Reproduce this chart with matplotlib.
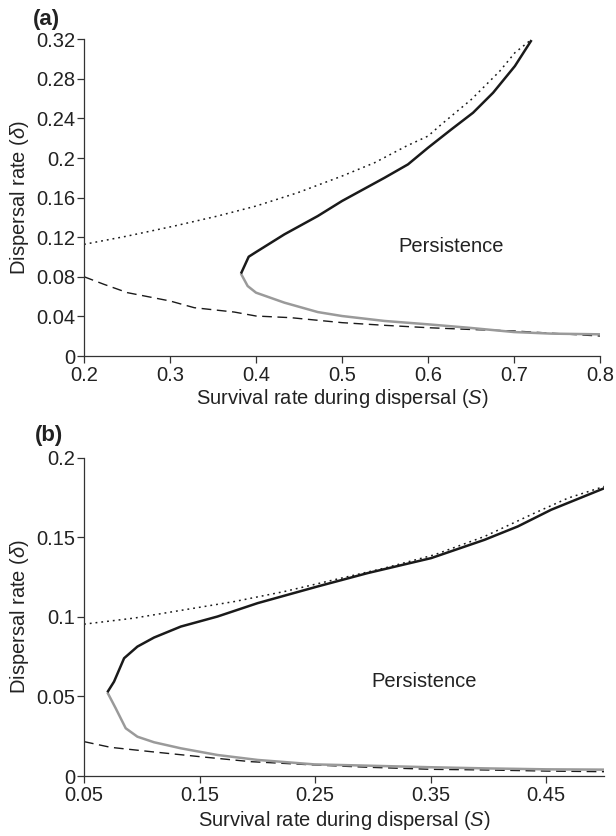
import matplotlib
matplotlib.use("Agg")
import matplotlib.pyplot as plt

plt.rcParams['font.family'] = ['Liberation Sans', 'DejaVu Sans']
plt.rcParams['mathtext.fontset'] = 'custom'
plt.rcParams['mathtext.it'] = 'Liberation Sans:italic'
plt.rcParams['mathtext.rm'] = 'Liberation Sans'

# ---------------- Panel (a) data ----------------
a_dot_S = [0.2, 0.2505, 0.3049, 0.3553, 0.4, 0.4485, 0.5, 0.5379, 0.5748, 0.6, 0.6155, 0.6505, 0.6835, 0.701, 0.7204]
a_dot_d = [0.1128, 0.1212, 0.1313, 0.1414, 0.1515, 0.165, 0.1818, 0.1953, 0.2121, 0.2222, 0.234, 0.2593, 0.2879, 0.3064, 0.3199]

a_up_S = [0.3825, 0.3915, 0.4, 0.433, 0.4718, 0.5, 0.5495, 0.5767, 0.6, 0.6272, 0.6524, 0.6757, 0.701, 0.7204]
a_up_d = [0.0832, 0.1003, 0.105, 0.1229, 0.1414, 0.1566, 0.1801, 0.1936, 0.2104, 0.229, 0.2458, 0.266, 0.2929, 0.3192]

a_lo_S = [0.3825, 0.3903, 0.4, 0.433, 0.4718, 0.5, 0.5495, 0.6, 0.6466, 0.7, 0.7437, 0.8]
a_lo_d = [0.0832, 0.0707, 0.064, 0.0539, 0.0444, 0.0404, 0.0354, 0.032, 0.0286, 0.0242, 0.0226, 0.0219]

a_dash_S = [0.2, 0.2233, 0.2505, 0.3, 0.3282, 0.3748, 0.4, 0.4408, 0.5, 0.5495, 0.6, 0.6466, 0.7, 0.7515, 0.8]
a_dash_d = [0.0801, 0.0724, 0.064, 0.0556, 0.0488, 0.0444, 0.0404, 0.0387, 0.0337, 0.031, 0.0286, 0.0269, 0.0253, 0.0226, 0.0202]

a_xticks = [0.2, 0.3, 0.4, 0.5, 0.6, 0.7, 0.8]
a_xticklabels = ['0.2', '0.3', '0.4', '0.5', '0.6', '0.7', '0.8']
a_yticks = [0, 0.04, 0.08, 0.12, 0.16, 0.2, 0.24, 0.28, 0.32]
a_yticklabels = ['0', '0.04', '0.08', '0.12', '0.16', '0.2', '0.24', '0.28', '0.32']

# ---------------- Panel (b) data ----------------
b_dot_S = [0.05, 0.0933, 0.1366, 0.18, 0.2233, 0.2666, 0.3099, 0.3533, 0.3966, 0.4399, 0.4688, 0.5005]
b_dot_d = [0.0954, 0.0992, 0.1044, 0.1096, 0.1159, 0.1233, 0.1306, 0.139, 0.1505, 0.1652, 0.1746, 0.182]

b_up_S = [0.0702, 0.076, 0.0847, 0.0962, 0.1106, 0.1338, 0.1655, 0.2002, 0.2522, 0.2955, 0.3504, 0.3966, 0.4254, 0.4543, 0.5005]
b_up_d = [0.0526, 0.0593, 0.074, 0.0813, 0.087, 0.0939, 0.1002, 0.1086, 0.1191, 0.1275, 0.1369, 0.1484, 0.1568, 0.1673, 0.1809]

b_lo_S = [0.0702, 0.0774, 0.0861, 0.0962, 0.1106, 0.1338, 0.1655, 0.2002, 0.2493, 0.2955, 0.3504, 0.3966, 0.45, 0.5005]
b_lo_d = [0.0526, 0.0426, 0.03, 0.0247, 0.0212, 0.0174, 0.0132, 0.0101, 0.0073, 0.0065, 0.0055, 0.0048, 0.0042, 0.004]

b_dash_S = [0.05, 0.0731, 0.1078, 0.1496, 0.1944, 0.25, 0.2955, 0.3504, 0.3966, 0.45, 0.5005]
b_dash_d = [0.0216, 0.018, 0.0153, 0.0122, 0.009, 0.0069, 0.0055, 0.0042, 0.0038, 0.0031, 0.0027]

b_xticks = [0.05, 0.15, 0.25, 0.35, 0.45]
b_xticklabels = ['0.05', '0.15', '0.25', '0.35', '0.45']
b_yticks = [0, 0.05, 0.1, 0.15, 0.2]
b_yticklabels = ['0', '0.05', '0.1', '0.15', '0.2']

xlabel = 'Survival rate during dispersal ($\\mathit{S}$)'
ylabel = 'Dispersal rate ($\\mathit{\\delta}$)'
region_label = 'Persistence'

W, H = 616, 836
fig = plt.figure(figsize=(W / 100, H / 100), dpi=100)

def make_axes(left, right, top, bottom):
    return fig.add_axes([left / W, 1 - bottom / H, (right - left) / W, (bottom - top) / H])

A_BOX = (84, 600, 39.3, 356)
B_BOX = (84, 604, 457.7, 776)
axa = make_axes(*A_BOX)
axb = make_axes(*B_BOX)

GRAY = '#9a9a9a'
BLACK = '#1a1a1a'
TXT = '#222222'
FS = 14.5

def style(ax):
    for s in ['top', 'right']:
        ax.spines[s].set_visible(False)
    for s in ['left', 'bottom']:
        ax.spines[s].set_linewidth(0.9)
        ax.spines[s].set_color('#333333')
    ax.tick_params(direction='out', length=5, width=0.9, color='#333333',
                   labelsize=FS, labelcolor=TXT)
    ax.tick_params(axis='x', pad=2.5)
    ax.tick_params(axis='y', pad=1.5)

def labels(ax, box, xlab_offset_px):
    left, right, top, bottom = box
    w = right - left
    h = bottom - top
    ax.set_xlabel(xlabel, fontsize=FS, color=TXT)
    ax.set_ylabel(ylabel, fontsize=FS, color=TXT)
    ax.xaxis.label.set_verticalalignment('center')
    ax.yaxis.label.set_verticalalignment('center')
    ax.xaxis.set_label_coords(0.5, -xlab_offset_px / h)
    ax.yaxis.set_label_coords((20 - left) / w, 0.5)

def draw(ax, dot, up, lo, dash):
    ax.plot(dot[0], dot[1], color=BLACK, lw=1.1, linestyle=(0, (1.2, 2.6)), zorder=2)
    ax.plot(dash[0], dash[1], color=BLACK, lw=1.0, linestyle=(0, (7, 4)), zorder=2)
    ax.plot(lo[0], lo[1], color=GRAY, lw=1.8, zorder=3, solid_capstyle='butt')
    ax.plot(up[0], up[1], color=BLACK, lw=1.8, zorder=4, solid_capstyle='butt')

# Panel (a)
draw(axa, (a_dot_S, a_dot_d), (a_up_S, a_up_d), (a_lo_S, a_lo_d), (a_dash_S, a_dash_d))
axa.set_xlim(0.2, 0.8)
axa.set_ylim(0, 0.32)
axa.set_xticks(a_xticks)
axa.set_xticklabels(a_xticklabels)
axa.set_yticks(a_yticks)
axa.set_yticklabels(a_yticklabels)
axa.text(0.627, 0.1104, region_label, fontsize=FS, ha='center', va='center', color=TXT)
style(axa)
labels(axa, A_BOX, 43)

# Panel (b)
draw(axb, (b_dot_S, b_dot_d), (b_up_S, b_up_d), (b_lo_S, b_lo_d), (b_dash_S, b_dash_d))
axb.set_xlim(0.05, 0.5)
axb.set_ylim(0, 0.2)
axb.set_xticks(b_xticks)
axb.set_xticklabels(b_xticklabels)
axb.set_yticks(b_yticks)
axb.set_yticklabels(b_yticklabels)
axb.text(0.3446, 0.0593, region_label, fontsize=FS, ha='center', va='center', color=TXT)
style(axb)
labels(axb, B_BOX, 45)

fig.text(33 / W, 1 - 20 / H, '(a)', fontsize=16, fontweight='bold', ha='left', va='center', color=TXT)
fig.text(35 / W, 1 - 436 / H, '(b)', fontsize=16, fontweight='bold', ha='left', va='center', color=TXT)

fig.savefig('out.png', dpi=100)
